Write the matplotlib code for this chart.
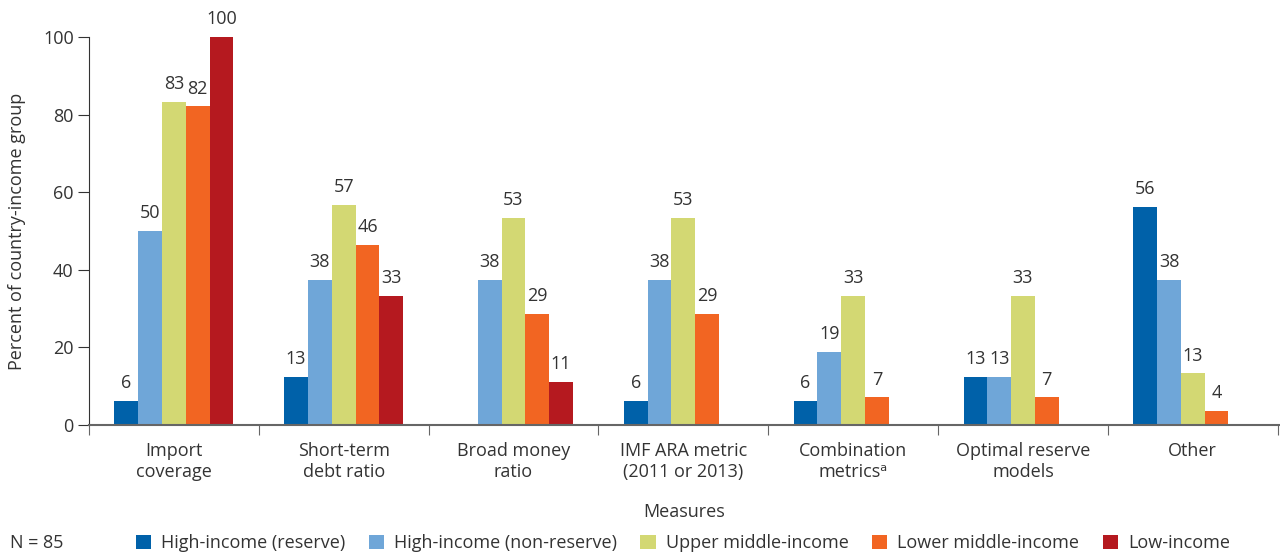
import numpy as np
import matplotlib
matplotlib.use('Agg')
import matplotlib.pyplot as plt

plt.rcParams['font.family'] = ['Open Sans', 'DejaVu Sans']

# Categories and series
measures = ['Import\ncoverage', 'Short-term\ndebt ratio', 'Broad money\nratio',
            'IMF ARA metric\n(2011 or 2013)', 'Combination\nmetrics\u1d43',
            'Optimal reserve\nmodels', 'Other']
groups = ['High-income (reserve)', 'High-income (non-reserve)',
          'Upper middle-income', 'Lower middle-income', 'Low-income']
high_reserve = [6.25, 12.5, 0, 6.25, 6.25, 12.5, 56.25]
high_nonreserve = [50, 37.5, 37.5, 37.5, 18.75, 12.5, 37.5]
upper_middle = [83.3, 56.7, 53.3, 53.3, 33.3, 33.3, 13.3]
lower_middle = [82.1, 46.4, 28.6, 28.6, 7.1, 7.1, 3.6]
low_income = [100, 33.3, 11.1, 0, 0, 0, 0]
colors = ['#0061a9', '#6fa6d8', '#d3d873', '#f26522', '#b5191f']

series = [high_reserve, high_nonreserve, upper_middle, lower_middle, low_income]

fig = plt.figure(figsize=(12.8, 5.52), dpi=100)
ax = fig.add_axes([0.0695, 0.23, 0.93, 0.703])

fs = 13
text_color = '#333333'
x = np.arange(len(measures))
width = 0.14
for i, (vals, name, col) in enumerate(zip(series, groups, colors)):
    pos = x + (i - 2) * width
    ax.bar(pos, vals, width, color=col, label=name, zorder=2)
    for p, v in zip(pos, vals):
        if v > 0:
            ax.text(p, v + 2.3, str(int(v + 0.5)), ha='center', va='bottom',
                    fontsize=fs, color=text_color, clip_on=False)

ax.set_xlim(-0.5, len(measures) - 0.5 + 0.01)
ax.set_ylim(0, 100)
ax.set_yticks(range(0, 101, 20))
ax.tick_params(axis='y', labelsize=fs, labelcolor=text_color, length=8,
               color='#333333', pad=3)

# boundary ticks below the axis, labels centred under each group
ax.set_xticks(np.arange(len(measures) + 1) - 0.5)
ax.set_xticklabels([])
ax.tick_params(axis='x', which='major', length=7, color='#666666')
ax.set_xticks(x, minor=True)
ax.set_xticklabels(measures, minor=True, fontsize=fs, color=text_color,
                   linespacing=1.2)
ax.tick_params(axis='x', which='minor', length=0, pad=12)

for s in ['top', 'right']:
    ax.spines[s].set_visible(False)
ax.spines['left'].set_color('#333333')
ax.spines['bottom'].set_color('#666666')
ax.spines['bottom'].set_linewidth(1.5)

ax.set_ylabel('Percent of country-income group', fontsize=fs, color=text_color,
              labelpad=12)
ax.set_xlabel('Measures', fontsize=fs, color=text_color, labelpad=16)

fig.text(0.008, 0.016, 'N = 85', fontsize=fs, color=text_color, va='center')
fig.legend(loc='center left', bbox_to_anchor=(0.106, 0.016), ncol=5,
           frameon=False, fontsize=fs, handlelength=0.85, handleheight=0.85,
           handletextpad=0.55, columnspacing=1.3, labelcolor=text_color,
           borderaxespad=0, borderpad=0)

fig.savefig('out.png', dpi=100)
